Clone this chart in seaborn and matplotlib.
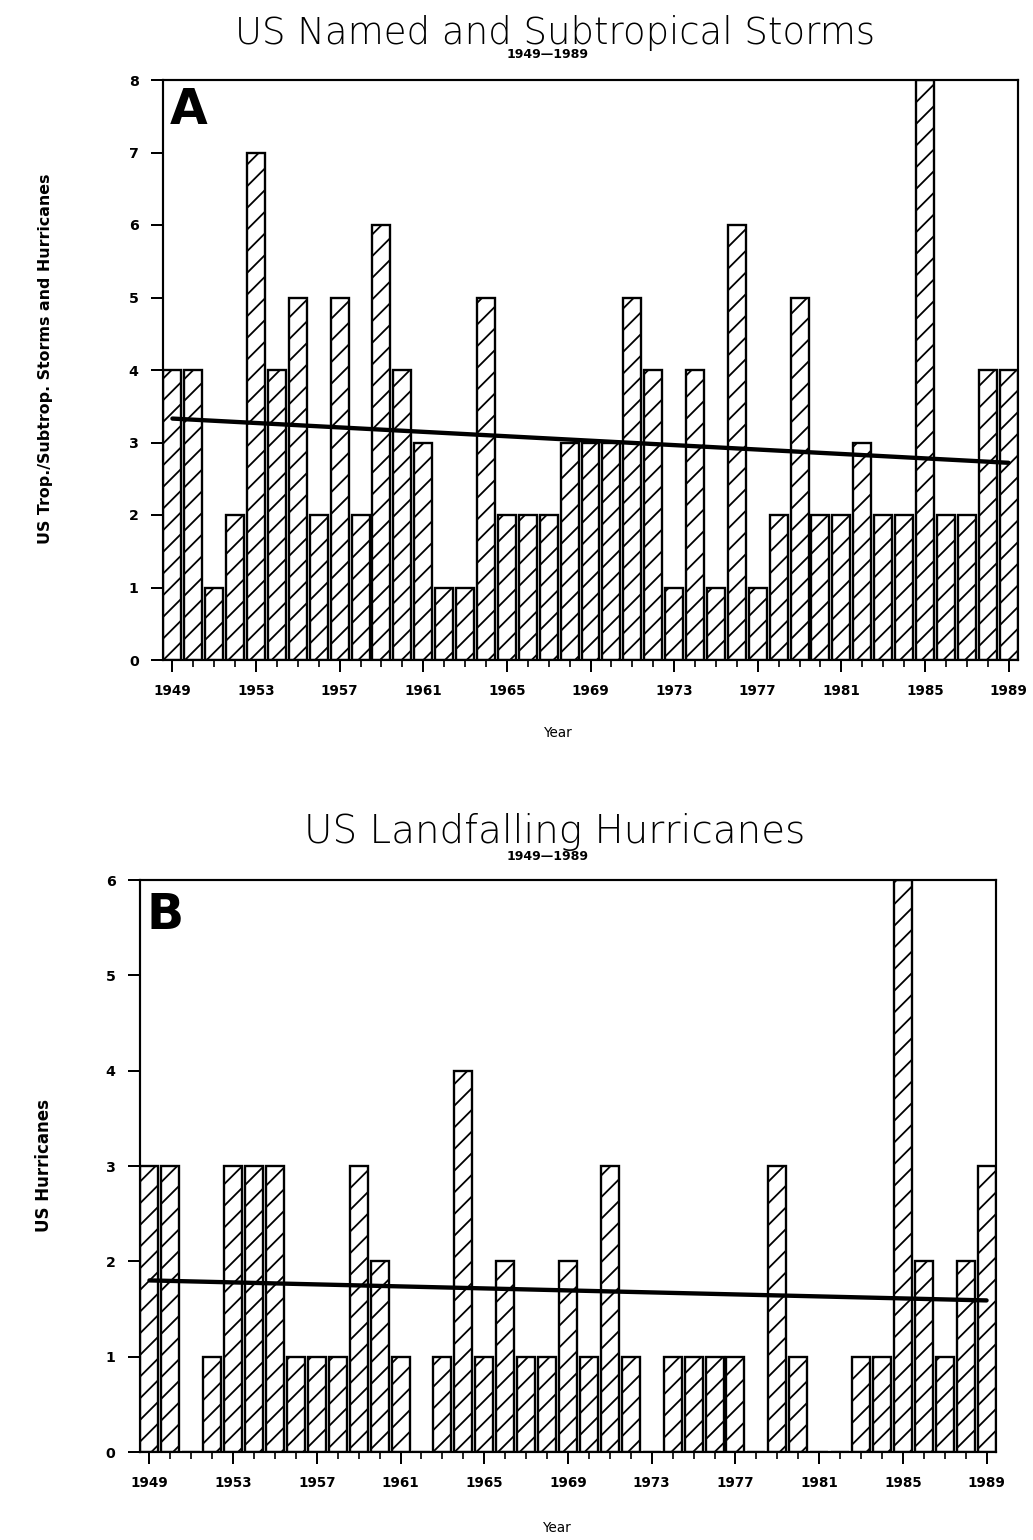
import matplotlib
matplotlib.use("Agg")
import matplotlib.pyplot as plt
import pandas as pd
import seaborn as sns
from matplotlib.ticker import FixedLocator, NullFormatter

# Annual counts, 1949-1989
years = list(range(1949, 1990))
storms = [4, 4, 1, 2, 7, 4, 5, 2, 5, 2,
          6, 4, 3, 1, 1, 5, 2, 2, 2, 3,
          3, 3, 5, 4, 1, 4, 1, 6, 1, 2,
          5, 2, 2, 3, 2, 2, 8, 2, 2, 4,
          4]
hurricanes = [3, 3, 0, 1, 3, 3, 3, 1, 1, 1,
              3, 2, 1, 0, 1, 4, 1, 2, 1, 1,
              2, 1, 3, 1, 0, 1, 1, 1, 1, 0,
              3, 1, 0, 0, 1, 1, 6, 2, 1, 2,
              3]

# Linear trend end points
trend_years = [1949, 1989]
storms_trend = [3.33, 2.72]
hurricanes_trend = [1.80, 1.59]

label_years = list(range(1949, 1990, 4))

DPI = 130
sns.set_theme(style="ticks")
plt.rcParams["font.family"] = ["DejaVu Sans"]
plt.rcParams["hatch.linewidth"] = 1.0
plt.rcParams["hatch.color"] = "black"

fig = plt.figure(figsize=(1033 / DPI, 1540 / DPI), dpi=DPI)
fig.patch.set_facecolor("white")

W, H = 1033, 1540
ax_a = fig.add_axes([163 / W, 1 - 660 / H, 855 / W, 580 / H])
ax_b = fig.add_axes([140 / W, 1 - 1452 / H, 856 / W, 572 / H])


def draw_panel(ax, values, trend, ymax, ylabel, ylab_size, letter,
               ylab_x, ylab_y, xlab_xy, let_xy):
    df = pd.DataFrame({"Year": years, "Count": values})
    sns.barplot(data=df, x="Year", y="Count", native_scale=True, width=0.86,
                color="white", saturation=1, edgecolor="black",
                linewidth=1.3, ax=ax)
    for p in ax.patches:
        p.set_hatch("//")
        p.set_facecolor("white")
        p.set_edgecolor("black")
    sns.lineplot(x=trend_years, y=trend, color="black", linewidth=2.4, ax=ax)

    ax.set_xlim(1948.55, 1989.45)
    ax.set_ylim(0, ymax)
    ax.set_facecolor("white")
    for s in ax.spines.values():
        s.set_visible(True)
        s.set_color("black")
        s.set_linewidth(1.2)

    ax.xaxis.set_major_locator(FixedLocator(label_years))
    ax.xaxis.set_minor_locator(FixedLocator([y for y in years if y not in label_years]))
    ax.xaxis.set_minor_formatter(NullFormatter())
    ax.set_xticklabels([str(y) for y in label_years])
    ax.set_yticks(range(0, ymax + 1))
    ax.tick_params(axis="x", which="major", length=6.5, width=1.1, direction="out",
                   labelsize=7.5, pad=7, colors="black")
    ax.tick_params(axis="x", which="minor", length=3.8, width=1.1, direction="out")
    ax.tick_params(axis="y", which="major", length=6.5, width=1.1, direction="out",
                   labelsize=7.8, pad=7, colors="black")
    for lab in ax.get_xticklabels() + ax.get_yticklabels():
        lab.set_fontweight("bold")

    ax.set_xlabel("Year", fontsize=7.5, color="black")
    ax.xaxis.set_label_coords(*xlab_xy)
    ax.set_ylabel(ylabel, fontsize=ylab_size, fontweight="bold", color="black")
    ax.yaxis.set_label_coords(ylab_x, ylab_y)

    ax.text(let_xy[0], let_xy[1], letter, transform=ax.transAxes,
            fontsize=27, fontweight="heavy", ha="left", va="top", color="black")


draw_panel(ax_a, storms, storms_trend, 8,
           "US Trop./Subtrop. Storms and Hurricanes", 8.8, "A",
           -0.129, 0.52, (0.462, -0.113), (0.008, 0.99))
draw_panel(ax_b, hurricanes, hurricanes_trend, 6,
           "US Hurricanes", 9.2, "B",
           -0.102, 0.5, (0.488, -0.121), (0.008, 0.98))

title_kw = dict(ha="center", va="center", color="black", fontweight="light")
fig.text(555 / W, 1 - 33 / H, "US Named and Subtropical Storms", fontsize=20.5, **title_kw)
fig.text(548 / W, 1 - 55 / H, "1949\u20141989", fontsize=7, fontweight="bold",
         ha="center", va="center", color="black")
fig.text(555 / W, 1 - 832 / H, "US Landfalling Hurricanes", fontsize=21.5, **title_kw)
fig.text(548 / W, 1 - 856 / H, "1949\u20141989", fontsize=7, fontweight="bold",
         ha="center", va="center", color="black")

fig.savefig("out.png", dpi=DPI, facecolor="white")
